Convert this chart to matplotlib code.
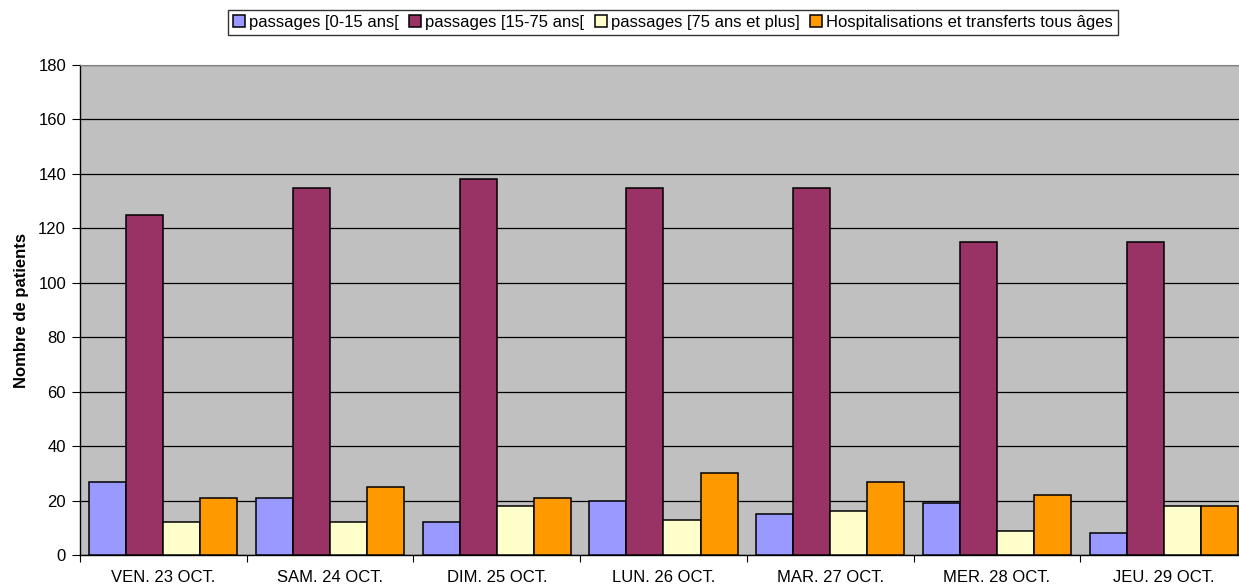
import numpy as np
import matplotlib
matplotlib.use('Agg')
import matplotlib.pyplot as plt
from matplotlib.ticker import FixedLocator, NullFormatter

plt.rcParams['font.family'] = ['Liberation Sans', 'DejaVu Sans']

jours = ['VEN. 23 OCT.', 'SAM. 24 OCT.', 'DIM. 25 OCT.', 'LUN. 26 OCT.',
         'MAR. 27 OCT.', 'MER. 28 OCT.', 'JEU. 29 OCT.']
series = ['passages [0-15 ans[', 'passages [15-75 ans[',
          'passages [75 ans et plus]', 'Hospitalisations et transferts tous âges']
p_0_15 = [27, 21, 12, 20, 15, 19, 8]
p_15_75 = [125, 135, 138, 135, 135, 115, 115]
p_75_plus = [12, 12, 18, 13, 16, 9, 18]
hospit = [21, 25, 21, 30, 27, 22, 18]
couleurs = ['#9999FF', '#993366', '#FFFFCC', '#FF9900']

fig = plt.figure(figsize=(12.39, 5.86), dpi=100)
ax = fig.add_axes([80 / 1239, 31 / 586, 1167 / 1239, 490 / 586])
ax.set_facecolor('#C0C0C0')

x = np.arange(len(jours))
w = 1 / 4.5
for i, (vals, nom, c) in enumerate(zip([p_0_15, p_15_75, p_75_plus, hospit], series, couleurs)):
    ax.bar(x + (i - 1.5) * w, vals, w, color=c, edgecolor='black', linewidth=1.1,
           label=nom, zorder=3)

ax.set_xlim(-0.5, len(jours) - 0.5)
ax.set_ylim(0, 180)
ax.set_yticks(range(0, 181, 20))
ax.yaxis.grid(True, color='black', linewidth=0.9, zorder=1)
ax.tick_params(axis='y', direction='out', length=6, width=0.8, labelsize=12, pad=4)

# ticks between the days, labels centred under each group
ax.xaxis.set_major_locator(FixedLocator(np.arange(-0.5, len(jours), 1)))
ax.xaxis.set_major_formatter(NullFormatter())
ax.xaxis.set_minor_locator(FixedLocator(x))
ax.set_xticklabels(jours, minor=True)
ax.tick_params(axis='x', which='major', direction='out', length=5, width=0.8)
ax.tick_params(axis='x', which='minor', length=0, labelsize=12, pad=11)

for s in ['left', 'bottom']:
    ax.spines[s].set_color('black')
    ax.spines[s].set_linewidth(1)
ax.spines['top'].set_color('#808080')
ax.spines['right'].set_visible(False)

ax.set_ylabel('Nombre de patients', fontsize=12, fontweight='bold', labelpad=7)

leg = fig.legend(loc='center', bbox_to_anchor=(673 / 1239, 1 - 22.5 / 586), ncol=4,
                 fontsize=12, frameon=True, fancybox=False, edgecolor='black',
                 handlelength=0.7, handleheight=0.7, handletextpad=0.25,
                 columnspacing=0.65, borderpad=0.3, borderaxespad=0)
leg.get_frame().set_linewidth(1)

fig.savefig('out.png', dpi=100)
